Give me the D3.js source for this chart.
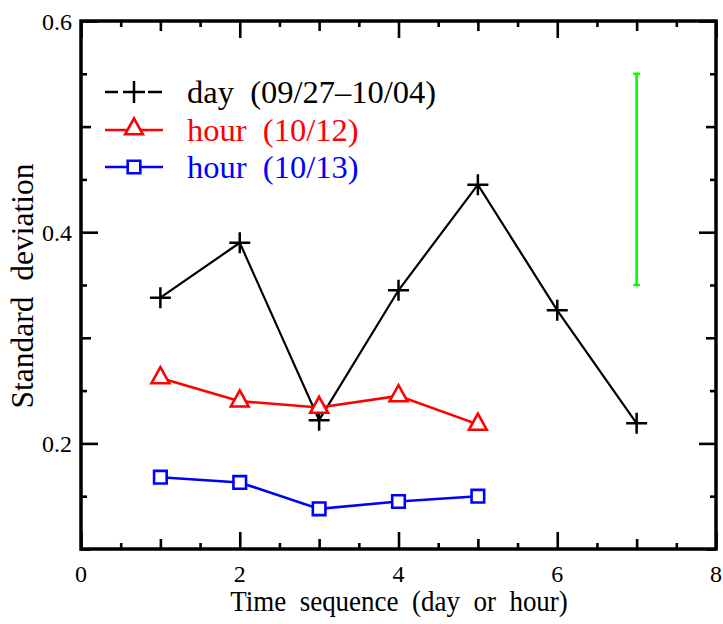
<!DOCTYPE html>
<html>
<head>
<meta charset="utf-8">
<script src="https://cdn.jsdelivr.net/npm/d3@7"></script>
<style>
  html, body { margin: 0; padding: 0; background: #fff; }
  svg { display: block; }
</style>
</head>
<body>
<svg id="chart" width="723" height="624"></svg>
<script>
// ---- data ----
const seqX = [1, 2, 3, 4, 5, 6, 7];
const dayValues = [0.338, 0.390, 0.222, 0.345, 0.445, 0.326, 0.219];
const hourX = [1, 2, 3, 4, 5];
const hour1012Values = [0.262, 0.240, 0.234, 0.245, 0.218];
const hour1013Values = [0.168, 0.163, 0.138, 0.145, 0.150];
const errorBarX = [7];
const errorBarLow = [0.35];
const errorBarHigh = [0.55];
const xTickLabels = ["0", "2", "4", "6", "8"];
const yTickLabels = ["0.2", "0.4", "0.6"];
const seriesNames = ["day  (09/27\u201310/04)", "hour  (10/12)", "hour  (10/13)"];
const seriesColors = ["#000000", "#ff0000", "#0000ff"];
const xTitle = "Time  sequence  (day  or  hour)";
const yTitle = "Standard  deviation";

// ---- layout ----
const L = 81, R = 716, T = 21, B = 549;
const FONT = "Liberation Serif, Tinos, Nimbus Roman, Times New Roman, DejaVu Serif, serif";
const svg = d3.select("#chart");
const x = d3.scaleLinear().domain([0, 8]).range([L, R]);
const y = d3.scaleLinear().domain([0.1, 0.6]).range([B, T]);

const LONG = 17, MED = 10, SHORT = 6;
const xMinor = d3.range(0, 8.001, 0.5);
const yMinor = d3.range(0.1, 0.6001, 0.05).map(v => +v.toFixed(2));
function xLen(v) { const r = Math.round(v * 2); if (r % 4 === 0) return LONG; if (r % 2 === 0) return MED; return SHORT; }
function yLen(v) { const r = Math.round(v * 20); if (r % 4 === 0) return LONG; if (r % 2 === 0) return MED; return SHORT; }

function drawAxis(gen, transform, vals, lenFn, sign) {
  [LONG, MED, SHORT].forEach(len => {
    const tv = vals.filter(v => lenFn(v) === len);
    const g = svg.append("g").attr("transform", transform)
      .call(gen.tickValues(tv).tickSizeInner(sign * len).tickSizeOuter(0).tickFormat(""));
    g.select(".domain").remove();
    g.selectAll(".tick line").attr("stroke", "#000").attr("stroke-width", 2.6);
  });
}
drawAxis(d3.axisBottom(x), `translate(0,${B})`, xMinor, xLen, -1);
drawAxis(d3.axisTop(x), `translate(0,${T})`, xMinor, xLen, -1);
drawAxis(d3.axisLeft(y), `translate(${L},0)`, yMinor, yLen, -1);
drawAxis(d3.axisRight(y), `translate(${R},0)`, yMinor, yLen, -1);

svg.append("rect").attr("x", L).attr("y", T).attr("width", R - L).attr("height", B - T)
  .attr("fill", "none").attr("stroke", "#000").attr("stroke-width", 3.5);

function txt(sel) { return sel.style("font-family", FONT).style("white-space", "pre"); }

txt(svg.append("g").selectAll("text").data(xTickLabels).join("text"))
  .attr("x", d => x(+d)).attr("y", 582)
  .attr("text-anchor", "middle").style("font-size", "24px").attr("fill", "#000").text(d => d);
txt(svg.append("g").selectAll("text").data(yTickLabels).join("text"))
  .attr("x", 72).attr("y", d => y(+d) + 8.5)
  .attr("text-anchor", "end").style("font-size", "24px").attr("fill", "#000").text(d => d);

txt(svg.append("text")).attr("transform", `translate(399,611) scale(0.9,1)`)
  .attr("text-anchor", "middle").style("font-size", "30px").attr("fill", "#000").text(xTitle);
txt(svg.append("text")).attr("transform", `translate(33,286) rotate(-90)`)
  .attr("text-anchor", "middle").style("font-size", "31.5px").attr("fill", "#000").text(yTitle);

function plusPath(cx, cy, a) { return `M${cx - a},${cy}H${cx + a}M${cx},${cy - a}V${cy + a}`; }
function triPath(cx, cy) { return `M${cx},${cy - 10.7}L${cx + 8.9},${cy + 5.3}L${cx - 8.9},${cy + 5.3}Z`; }
function sqPath(cx, cy) { return `M${cx - 6.3},${cy - 6.3}h12.6v12.6h-12.6Z`; }

const line = d3.line().x(d => x(d[0])).y(d => y(d[1]));

const dayData = seqX.map((v, i) => [v, dayValues[i]]);
svg.append("path").attr("d", line(dayData)).attr("fill", "none")
  .attr("stroke", seriesColors[0]).attr("stroke-width", 2.2);
svg.append("g").selectAll("path").data(dayData).join("path")
  .attr("d", d => plusPath(x(d[0]), y(d[1]), 10.5))
  .attr("stroke", seriesColors[0]).attr("stroke-width", 2.5).attr("fill", "none");

const h12 = hourX.map((v, i) => [v, hour1012Values[i]]);
svg.append("path").attr("d", line(h12)).attr("fill", "none")
  .attr("stroke", seriesColors[1]).attr("stroke-width", 2.6);
svg.append("g").selectAll("path").data(h12).join("path")
  .attr("d", d => triPath(x(d[0]), y(d[1])))
  .attr("stroke", seriesColors[1]).attr("stroke-width", 2.6).attr("fill", "#fff");

const h13 = hourX.map((v, i) => [v, hour1013Values[i]]);
svg.append("path").attr("d", line(h13)).attr("fill", "none")
  .attr("stroke", seriesColors[2]).attr("stroke-width", 2.6);
svg.append("g").selectAll("path").data(h13).join("path")
  .attr("d", d => sqPath(x(d[0]), y(d[1])))
  .attr("stroke", seriesColors[2]).attr("stroke-width", 2.6).attr("fill", "#fff");

errorBarX.forEach((ex, i) => {
  const cx = x(ex), y1 = y(errorBarLow[i]), y2 = y(errorBarHigh[i]);
  svg.append("path")
    .attr("d", `M${cx},${y1}V${y2}M${cx - 3.3},${y1}H${cx + 3.3}M${cx - 3.3},${y2}H${cx + 3.3}`)
    .attr("stroke", "#00ff00").attr("stroke-width", 2.6).attr("fill", "none");
});

const rows = [92, 130, 167];
const lg = svg.append("g");
lg.append("path").attr("d", `M105,${rows[0]}H118M123,${rows[0]}H145M148,${rows[0]}H162M134,${rows[0] - 11}V${rows[0] + 11}`)
  .attr("stroke", seriesColors[0]).attr("stroke-width", 2.5).attr("fill", "none");
lg.append("path").attr("d", `M105,${rows[1]}H163`).attr("stroke", seriesColors[1]).attr("stroke-width", 2.6);
lg.append("path").attr("d", triPath(134, rows[1] - 1)).attr("stroke", seriesColors[1]).attr("stroke-width", 2.6).attr("fill", "#fff");
lg.append("path").attr("d", `M105,${rows[2]}H163`).attr("stroke", seriesColors[2]).attr("stroke-width", 2.6);
lg.append("path").attr("d", sqPath(134, rows[2])).attr("stroke", seriesColors[2]).attr("stroke-width", 2.6).attr("fill", "#fff");
txt(lg.selectAll("text.lbl").data(seriesNames).join("text")).attr("class", "lbl")
  .attr("x", 187).attr("y", (d, i) => rows[i] + 11)
  .style("font-size", "32.5px").attr("fill", (d, i) => seriesColors[i]).text(d => d);
</script>
</body>
</html>
